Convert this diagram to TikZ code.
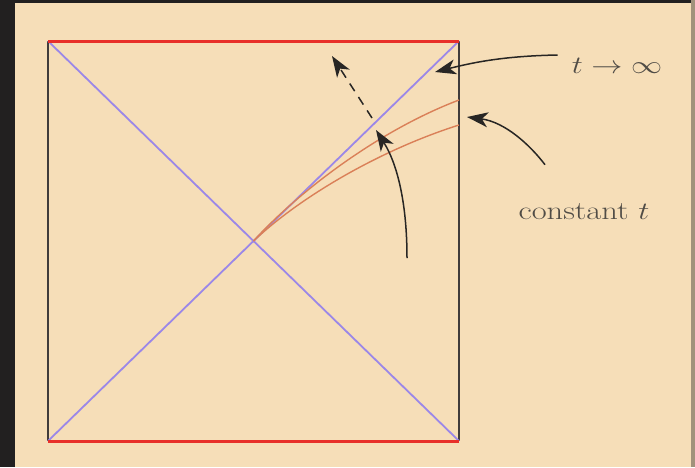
\documentclass[tikz,border=0pt]{standalone}
\usetikzlibrary{arrows.meta}
\definecolor{bg}{RGB}{246,222,184}
\definecolor{frame}{RGB}{34,32,32}
\definecolor{redline}{RGB}{232,48,42}
\definecolor{diag}{RGB}{155,135,232}
\definecolor{orangec}{RGB}{218,128,88}
\definecolor{sidec}{RGB}{64,60,60}
\definecolor{arrc}{RGB}{40,38,36}
\definecolor{txtc}{RGB}{80,76,70}
\tikzset{
  horizon/.style={redline, line width=3pt},
  side/.style={sidec, line width=1.8pt},
  diagl/.style={diag, line width=1.8pt},
  slice/.style={orangec, line width=1.4pt},
  pointer/.style={arrc, line width=1.5pt, -{Stealth[length=21pt,width=15pt,inset=6pt]}},
  lbl/.style={text=txtc, font=\fontsize{26}{30}\selectfont, inner sep=0pt, xscale=1.25}
}
\begin{document}
\begin{tikzpicture}[x=1pt,y=-1pt]
\useasboundingbox (0,0) rectangle (695,467);
\fill[bg] (0,0) rectangle (695,467);
\fill[frame] (0,0) rectangle (15,467);
\fill[frame] (0,0) rectangle (695,3);
\fill[frame!40!bg] (691,0) rectangle (695,467);
% corners
\coordinate (TL) at (48,41);
\coordinate (TR) at (459,41);
\coordinate (BL) at (48,441);
\coordinate (BR) at (459,441);
\coordinate (C) at (253.5,241);
\coordinate (E1) at (459,100);
\coordinate (E2) at (459,125);
% sides
\draw[side] (TL) -- (BL);
\draw[side] (TR) -- (BR);
% diagonals
\draw[diagl] (TL) -- (BR);
\draw[diagl] (BL) -- (TR);
% constant t slices
\draw[slice] (C) .. controls (300,190) and (380,130) .. (E1);
\draw[slice] (C) .. controls (300,197) and (380,150) .. (E2);
% horizons
\draw[horizon] (TL) -- (TR);
\draw[horizon] (BL) -- (BR);
% labels
\node[lbl] (tinf) at (617,66) {$t\rightarrow\infty$};
\node[lbl] (const) at (584,212) {constant $t$};
% flow arrows
\coordinate (S0) at (407,258);
\coordinate (S1) at (376,130);
\coordinate (D0) at (372,118);
\coordinate (D1) at (332,56);
\draw[pointer] (S0) .. controls (407,205) and (398,165) .. (S1);
\draw[pointer, dashed, dash pattern=on 9pt off 7pt] (D0) -- (D1);
% label pointers
\coordinate (P1) at (435,72);
\coordinate (P2) at (467,117);
\draw[pointer] (tinf.west) ++(-14,-11) .. controls (505,56) and (475,62) .. (P1);
\draw[pointer] (const.north) ++(-39,-39) .. controls (530,145) and (505,122) .. (P2);
\end{tikzpicture}
\end{document}
